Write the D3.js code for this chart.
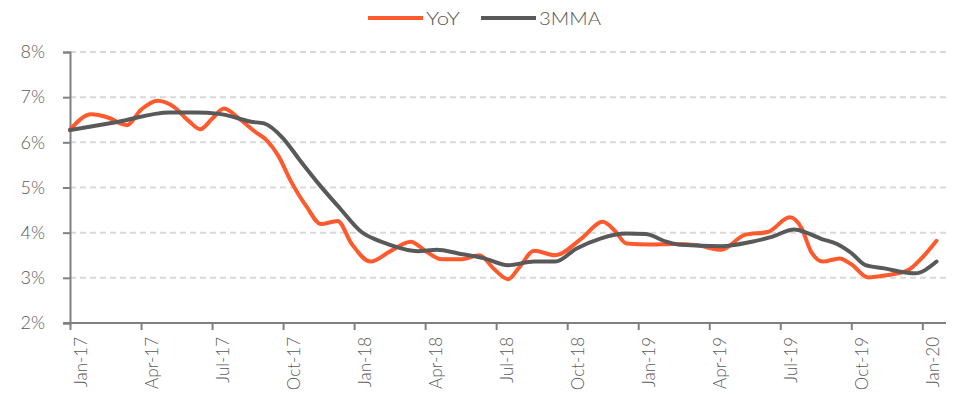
<!DOCTYPE html>
<html>
<head>
<meta charset="utf-8">
<script src="https://cdn.jsdelivr.net/npm/d3@7"></script>
<style>
  body { margin: 0; background: #fff; }
  text { font-family: "Lato", "Open Sans", sans-serif; font-weight: 300; fill: #595959; }
</style>
</head>
<body>
<div id="chart"></div>
<script>
// Month index: 0 = Jan-17 (fractional values follow the curve between months)
var yoyMonth = [0, 0.9, 1.6, 2.4, 3.0, 3.7, 4.4, 5.0, 5.5, 6.0, 6.5, 7.2, 7.8, 8.3, 8.8, 9.3, 10.0, 10.6, 11.3, 11.9,
    12.7, 13.5, 14.4, 15.0, 15.7, 16.5, 17.3, 17.9, 18.5, 19.0, 19.6, 20.5, 21.6, 22.5, 23.0, 23.5, 24.5, 25.5, 26.5,
    27.5, 28.5, 29.5, 30.4, 30.9, 31.3, 31.8, 32.5, 33.0, 33.7, 34.5, 35.4, 36.0, 36.6];
var yoyValue = [6.28, 6.62, 6.55, 6.38, 6.72, 6.92, 6.78, 6.48, 6.29, 6.52, 6.75, 6.5, 6.24, 6.05, 5.7, 5.17, 4.57, 4.19, 4.26, 3.75,
    3.36, 3.58, 3.8, 3.6, 3.41, 3.41, 3.5, 3.2, 2.97, 3.25, 3.6, 3.5, 3.87, 4.24, 4.05, 3.76, 3.74, 3.75, 3.72,
    3.62, 3.95, 4.02, 4.34, 4.1, 3.58, 3.36, 3.43, 3.3, 3.01, 3.06, 3.17, 3.45, 3.82];

var mmaMonth = [0, 2.0, 4.2, 5.3, 6.3, 7.2, 7.6, 8.2, 9.0, 9.7, 10.6, 11.4, 12.3, 12.9, 13.4, 14.7, 15.5, 16.4, 17.5, 18.5,
    19.6, 20.5, 21.4, 22.4, 23.5, 24.3, 25.2, 25.8, 27.5, 28.8, 29.6, 30.6, 31.1, 31.7, 32.4, 33.0, 33.6, 34.4, 35.4, 35.7, 36.6];
var mmaValue = [6.27, 6.45, 6.66, 6.66, 6.63, 6.52, 6.46, 6.42, 6.09, 5.61, 5.02, 4.54, 4.02, 3.85, 3.75, 3.59, 3.62, 3.54, 3.43, 3.28,
    3.36, 3.36, 3.65, 3.87, 3.98, 3.97, 3.8, 3.73, 3.7, 3.8, 3.9, 4.07, 4.0, 3.87, 3.75, 3.55, 3.28, 3.21, 3.11, 3.1, 3.36];

var tickMonths = [0, 3, 6, 9, 12, 15, 18, 21, 24, 27, 30, 33, 36];
var tickLabels = ["Jan-17", "Apr-17", "Jul-17", "Oct-17", "Jan-18", "Apr-18", "Jul-18", "Oct-18",
    "Jan-19", "Apr-19", "Jul-19", "Oct-19", "Jan-20"];
var yTicks = [2, 3, 4, 5, 6, 7, 8];
var seriesNames = ["YoY", "3MMA"];
var seriesColors = ["#ff5a2d", "#595959"];

var svgWidth = 964;
var svgHeight = 410;
var margin = { top: 52, right: 18, bottom: 87, left: 70 };
var chartWidth = svgWidth - margin.left - margin.right;
var chartHeight = svgHeight - margin.top - margin.bottom;

var svg = d3.select("#chart").append("svg")
    .attr("width", svgWidth)
    .attr("height", svgHeight);

var chartGroup = svg.append("g")
    .attr("transform", `translate(${margin.left}, ${margin.top})`);

var xScale = d3.scaleLinear().domain([0, 37]).range([0, chartWidth]);
var yScale = d3.scaleLinear().domain([2, 8]).range([chartHeight, 0]);

// gridlines
chartGroup.selectAll(".grid")
    .data(yTicks.filter(d => d > 2))
    .enter().append("line")
    .attr("x1", 0).attr("x2", chartWidth)
    .attr("y1", d => yScale(d)).attr("y2", d => yScale(d))
    .attr("stroke", "#d9d9d9")
    .attr("stroke-width", 2)
    .attr("stroke-dasharray", "6,4");

// y axis
var yAxis = d3.axisLeft(yScale).tickValues(yTicks).tickSize(7).tickPadding(18)
    .tickFormat(d => d + "%");
var yG = chartGroup.append("g").call(yAxis);
yG.select(".domain").attr("stroke", "#808080").attr("stroke-width", 2);
yG.selectAll(".tick line").attr("stroke", "#808080").attr("stroke-width", 2);
yG.selectAll(".tick text").style("font-size", "18px");

// x axis
var xAxis = d3.axisBottom(xScale).tickValues(tickMonths).tickSize(7)
    .tickFormat((d, i) => tickLabels[i]);
var xG = chartGroup.append("g")
    .attr("transform", `translate(0, ${chartHeight})`)
    .call(xAxis);
xG.select(".domain").attr("stroke", "#808080").attr("stroke-width", 2)
    .attr("d", `M-7,0H${chartWidth}`);
xG.selectAll(".tick line").attr("stroke", "#808080").attr("stroke-width", 2);
xG.selectAll(".tick text")
    .style("font-size", "17px")
    .attr("text-anchor", "end")
    .attr("x", 0).attr("y", 0).attr("dy", null)
    .attr("transform", "translate(16, 14) rotate(-90)");

// lines
var line = d3.line()
    .x(d => xScale(d[0]))
    .y(d => yScale(d[1]))
    .curve(d3.curveMonotoneX);

var seriesData = [
    d3.zip(yoyMonth, yoyValue),
    d3.zip(mmaMonth, mmaValue)
];

chartGroup.selectAll(".series")
    .data([0, 1])
    .enter().append("path")
    .attr("d", i => line(seriesData[i]))
    .attr("fill", "none")
    .attr("stroke", i => seriesColors[i])
    .attr("stroke-width", 4)
    .attr("stroke-linejoin", "round")
    .attr("stroke-linecap", "round");

// legend, centred over the chart
var legend = svg.append("g");
var legendX = [368, 481];
var legendTextW = [34, 62];
seriesNames.forEach(function(name, i) {
    legend.append("line")
        .attr("x1", legendX[i]).attr("x2", legendX[i] + 55)
        .attr("y1", 18).attr("y2", 18)
        .attr("stroke", seriesColors[i])
        .attr("stroke-width", 4);
    legend.append("text")
        .attr("x", legendX[i] + 58)
        .attr("y", 24.5)
        .attr("textLength", legendTextW[i])
        .attr("lengthAdjust", "spacingAndGlyphs")
        .style("font-size", "18px")
        .text(name);
});
</script>
</body>
</html>
